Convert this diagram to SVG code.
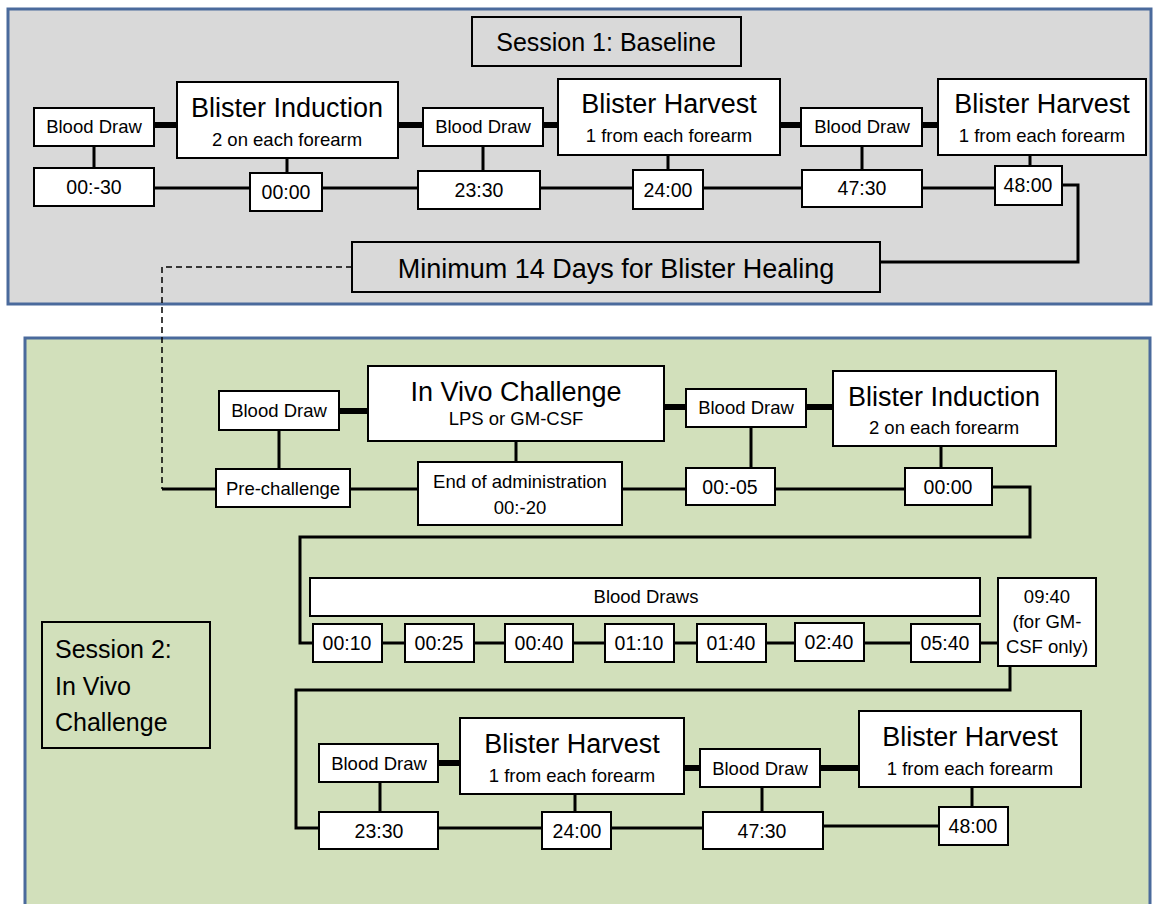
<svg xmlns="http://www.w3.org/2000/svg" width="1154" height="904" viewBox="0 0 1154 904">
<style>
.panel{stroke:#4a6a9c;stroke-width:3}
.box{fill:#fff;stroke:#000;stroke-width:2}
.lbl{fill:none;stroke:#000;stroke-width:2}
.ln{fill:none;stroke:#000;stroke-width:3}
.thick{fill:none;stroke:#000;stroke-width:6}
.dash{fill:none;stroke:#000;stroke-width:1.5;stroke-dasharray:6 4}
text{font-family:"Liberation Sans",Arial,sans-serif;fill:#000;text-anchor:middle}
.s{font-size:18.5px}
.m{font-size:19.5px}
.b{font-size:27px}
.st{font-size:25px;text-anchor:start}
</style>
<rect width="1154" height="904" fill="#fff"/>
<rect class="panel" x="8" y="9" width="1143" height="295" fill="#d9d9d9"/>
<rect class="panel" x="25" y="338" width="1125" height="575" fill="#d2e0bb"/>

<g id="connectors">
  <path class="thick" d="M154,125H177 M398,125H423 M543,125H558 M780,125H801 M922,125H938"/>
  <path class="ln" d="M154,188H250 M322,188H418 M540,188H633 M703,188H802 M922,188H995"/>
  <path class="ln" d="M94,146V168 M287,158V173 M483,146V171 M668,155V170 M862,146V170 M1030,155V166"/>
  <path class="ln" d="M1062,185H1078V262H880"/>
  <path class="dash" d="M352,267H162V489"/>
  <path class="ln" d="M162,489H216 M350,489H418 M622,489H686 M775,489H905"/>
  <path class="thick" d="M339,411H368 M664,407H686 M806,407H833"/>
  <path class="ln" d="M279,430V469 M516,441V462 M751,427V468 M941,446V468"/>
  <path class="ln" d="M992,487H1030V537H300V643H313"/>
  <path class="ln" d="M382,643H405 M474,643H505 M573,643H605 M674,643H697 M766,643H795 M864,643H911 M980,643H998"/>
  <path class="ln" d="M1010,666V690H296V828H319"/>
  <path class="thick" d="M438,763H460 M684,768H700 M820,768H859"/>
  <path class="ln" d="M438,828H542 M611,828H703 M822,826H938"/>
  <path class="ln" d="M380,782V812 M575,794V812 M762,787V812 M972,787V807"/>
</g>

<g id="session1-title"><rect class="box" x="472" y="17" width="269" height="49" style="fill:#d9d9d9"/><text x="606" y="51" style="font-size:25px">Session 1: Baseline</text></g>
<g id="s1-bd1"><rect class="box" x="34" y="108" width="120" height="38"/><text class="s" x="94" y="133">Blood Draw</text></g>
<g id="s1-bi"><rect class="box" x="177" y="82" width="221" height="76"/><text class="b" x="287" y="117">Blister Induction</text><text class="s" x="287" y="146">2 on each forearm</text></g>
<g id="s1-bd2"><rect class="box" x="423" y="108" width="120" height="38"/><text class="s" x="483" y="133">Blood Draw</text></g>
<g id="s1-bh1"><rect class="box" x="558" y="79" width="222" height="76"/><text class="b" x="669" y="113">Blister Harvest</text><text class="s" x="669" y="142">1 from each forearm</text></g>
<g id="s1-bd3"><rect class="box" x="801" y="108" width="121" height="38"/><text class="s" x="862" y="133">Blood Draw</text></g>
<g id="s1-bh2"><rect class="box" x="938" y="79" width="208" height="76"/><text class="b" x="1042" y="113">Blister Harvest</text><text class="s" x="1042" y="142">1 from each forearm</text></g>
<g id="s1-t1"><rect class="box" x="34" y="168" width="120" height="38"/><text class="m" x="94" y="194">00:-30</text></g>
<g id="s1-t2"><rect class="box" x="250" y="173" width="72" height="38"/><text class="m" x="286" y="199">00:00</text></g>
<g id="s1-t3"><rect class="box" x="418" y="171" width="122" height="38"/><text class="m" x="479" y="197">23:30</text></g>
<g id="s1-t4"><rect class="box" x="633" y="170" width="70" height="39"/><text class="m" x="668" y="197">24:00</text></g>
<g id="s1-t5"><rect class="box" x="802" y="170" width="120" height="37"/><text class="m" x="862" y="195">47:30</text></g>
<g id="s1-t6"><rect class="box" x="995" y="166" width="67" height="39"/><text class="m" x="1028" y="192">48:00</text></g>
<g id="healing"><rect class="box" x="352" y="242" width="528" height="50" style="fill:#d9d9d9"/><text class="b" x="616" y="278">Minimum 14 Days for Blister Healing</text></g>

<g id="session2-title"><rect class="lbl" x="42" y="622" width="168" height="126"/><text class="st" x="55" y="658">Session 2:</text><text class="st" x="55" y="695">In Vivo</text><text class="st" x="55" y="731">Challenge</text></g>
<g id="s2-bd1"><rect class="box" x="219" y="391" width="120" height="39"/><text class="s" x="279" y="417">Blood Draw</text></g>
<g id="s2-ivc"><rect class="box" x="368" y="366" width="296" height="75"/><text class="b" x="516" y="401">In Vivo Challenge</text><text class="s" x="516" y="425">LPS or GM-CSF</text></g>
<g id="s2-bd2"><rect class="box" x="686" y="389" width="120" height="38"/><text class="s" x="746" y="414">Blood Draw</text></g>
<g id="s2-bi"><rect class="box" x="833" y="371" width="223" height="75"/><text class="b" x="944" y="406">Blister Induction</text><text class="s" x="944" y="434">2 on each forearm</text></g>
<g id="s2-pre"><rect class="box" x="216" y="469" width="134" height="38"/><text class="s" x="283" y="495">Pre-challenge</text></g>
<g id="s2-eoa"><rect class="box" x="418" y="462" width="204" height="63"/><text class="s" x="520" y="488">End of administration</text><text class="s" x="520" y="514">00:-20</text></g>
<g id="s2-t05"><rect class="box" x="686" y="468" width="89" height="37"/><text class="m" x="730" y="494">00:-05</text></g>
<g id="s2-t00"><rect class="box" x="905" y="468" width="87" height="37"/><text class="m" x="948" y="494">00:00</text></g>
<g id="s2-draws"><rect class="box" x="310" y="578" width="670" height="38"/><text class="s" x="646" y="603">Blood Draws</text></g>
<g id="s2-t010"><rect class="box" x="313" y="624" width="69" height="38"/><text class="m" x="347" y="650">00:10</text></g>
<g id="s2-t025"><rect class="box" x="405" y="624" width="69" height="38"/><text class="m" x="439" y="650">00:25</text></g>
<g id="s2-t040"><rect class="box" x="505" y="624" width="68" height="38"/><text class="m" x="539" y="650">00:40</text></g>
<g id="s2-t110"><rect class="box" x="605" y="624" width="69" height="38"/><text class="m" x="639" y="650">01:10</text></g>
<g id="s2-t140"><rect class="box" x="697" y="624" width="69" height="38"/><text class="m" x="731" y="650">01:40</text></g>
<g id="s2-t240"><rect class="box" x="795" y="623" width="69" height="38"/><text class="m" x="829" y="649">02:40</text></g>
<g id="s2-t540"><rect class="box" x="911" y="624" width="69" height="38"/><text class="m" x="945" y="650">05:40</text></g>
<g id="s2-t940"><rect class="box" x="998" y="578" width="98" height="88"/><text class="s" x="1047" y="603">09:40</text><text class="s" x="1047" y="628">(for GM-</text><text class="s" x="1047" y="653">CSF only)</text></g>
<g id="s2-bd3"><rect class="box" x="319" y="744" width="119" height="38"/><text class="s" x="379" y="770">Blood Draw</text></g>
<g id="s2-bh1"><rect class="box" x="460" y="718" width="224" height="76"/><text class="b" x="572" y="753">Blister Harvest</text><text class="s" x="572" y="782">1 from each forearm</text></g>
<g id="s2-bd4"><rect class="box" x="700" y="749" width="120" height="38"/><text class="s" x="760" y="775">Blood Draw</text></g>
<g id="s2-bh2"><rect class="box" x="859" y="711" width="222" height="76"/><text class="b" x="970" y="746">Blister Harvest</text><text class="s" x="970" y="775">1 from each forearm</text></g>
<g id="s2-t2330"><rect class="box" x="319" y="812" width="119" height="37"/><text class="m" x="379" y="838">23:30</text></g>
<g id="s2-t2400"><rect class="box" x="542" y="812" width="69" height="37"/><text class="m" x="577" y="838">24:00</text></g>
<g id="s2-t4730"><rect class="box" x="703" y="812" width="120" height="37"/><text class="m" x="762" y="838">47:30</text></g>
<g id="s2-t4800"><rect class="box" x="939" y="807" width="69" height="38"/><text class="m" x="973" y="833">48:00</text></g>
</svg>
